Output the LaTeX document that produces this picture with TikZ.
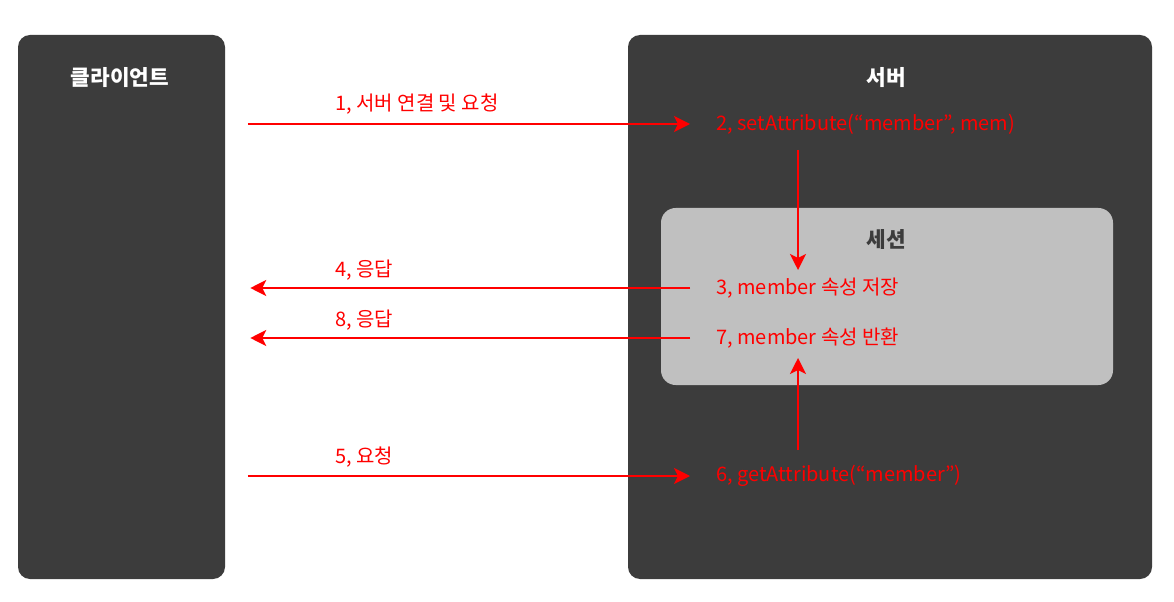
\documentclass[tikz,border=0pt]{standalone}
\usepackage{fontspec}
\setmainfont{Noto Sans CJK KR}
\usepackage{tikz}
\usetikzlibrary{arrows.meta,positioning}
\definecolor{PanelDark}{HTML}{3C3C3C}
\definecolor{SessionGray}{HTML}{C0C0C0}
\definecolor{MsgRed}{HTML}{FF0000}
\tikzset{
  panel/.style={draw=none,fill=PanelDark,rounded corners=9pt,inner sep=0pt},
  sessionbox/.style={draw=none,fill=SessionGray,rounded corners=11pt,inner sep=0pt},
  paneltitle/.style={text=white,font=\fontsize{16pt}{18pt}\selectfont\bfseries,inner sep=0pt},
  sessiontitle/.style={paneltitle,text=PanelDark},
  msgtext/.style={text=MsgRed,font=\fontsize{15pt}{17pt}\selectfont,inner sep=0pt,anchor=west},
  msglabel/.style={msgtext},
  msgarrow/.style={-{Stealth[length=12pt,width=12pt,inset=3pt]},line width=1.5pt,draw=MsgRed}
}
\begin{document}
\begin{tikzpicture}[x=0.75pt,y=-0.75pt]
  \useasboundingbox[fill=white] (0,0) rectangle (1174,602);

  % panels
  \node[panel,minimum width=155.25pt,minimum height=408pt] (client) at (121.5,307) {};
  \node[panel,minimum width=393pt,minimum height=408pt] (server) at (890,307) {};
  \node[sessionbox,minimum width=339pt,minimum height=132.75pt] (session) at (887,296.5) {};

  \node[paneltitle] (clienttitle) at (120,78) {클라이언트};
  \node[paneltitle] (servertitle) at (886,78) {서버};
  \node[sessiontitle] (sessiontitle) at (886,240) {세션};

  % server side steps
  \node[msgtext] (set) at (716,124) {2, setAttribute(“member”, mem)};
  \node[msgtext] (store) at (716,288) {3, member 속성 저장};
  \node[msgtext] (fetch) at (716,338) {7, member 속성 반환};
  \node[msgtext] (get) at (716,476) {6, getAttribute(“member”)};

  % labels
  \node[msglabel] (req1) at (335,104) {1, 서버 연결 및 요청};
  \node[msglabel] (resp4) at (335,270) {4, 응답};
  \node[msglabel] (resp8) at (335,320) {8, 응답};
  \node[msglabel] (req5) at (335,457) {5, 요청};

  % messages
  \draw[msgarrow,shorten <=17pt,shorten >=19.5pt] (client.east |- set.west) -- (set.west);
  \draw[msgarrow,shorten <=19.5pt,shorten >=18.75pt] (store.west) -- (client.east |- store.west);
  \draw[msgarrow,shorten <=19.5pt,shorten >=18.75pt] (fetch.west) -- (client.east |- fetch.west);
  \draw[msgarrow,shorten <=17pt,shorten >=19.5pt] (client.east |- get.west) -- (get.west);
  \draw[msgarrow] ([xshift=61.5pt,yshift=-19.5pt]set.west) -- ([xshift=61.5pt,yshift=13.5pt]store.west);
  \draw[msgarrow] ([xshift=61.5pt,yshift=19.5pt]get.west) -- ([xshift=61.5pt,yshift=-15pt]fetch.west);
\end{tikzpicture}
\end{document}
